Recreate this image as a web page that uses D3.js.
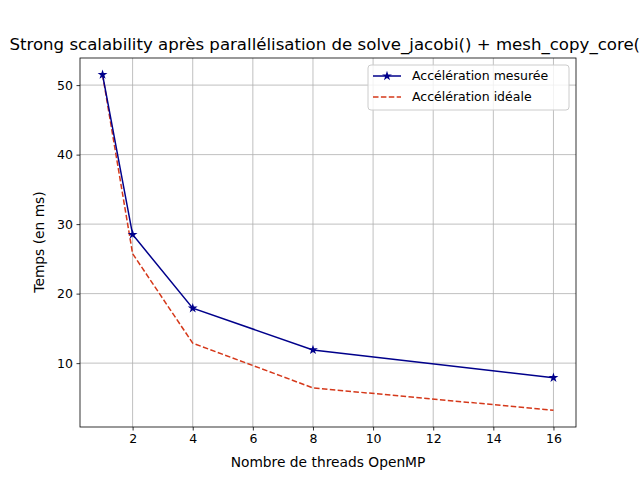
<!DOCTYPE html><html><head><meta charset="utf-8">
<script src="https://cdn.jsdelivr.net/npm/d3@7"></script>
<style>body{margin:0;background:#fff}text{font-family:"DejaVu Sans",sans-serif}</style></head><body>
<svg id="c" width="640" height="480"></svg>
<script>
const threads=[1,2,4,8,16];
const measured=[51.5,28.5,17.9,11.9,7.9];
const ideal=[51.5,25.75,12.875,6.4375,3.22];
const xTicks=[2,4,6,8,10,12,14,16];
const yTicks=[10,20,30,40,50];
const svg=d3.select("#c");
const L=80,R=576,T=58,B=427;
const x=d3.scaleLinear().domain([0.25,16.75]).range([L,R]);
const y=d3.scaleLinear().domain([0.81,53.9]).range([B,T]);
const g=svg.append("g");
xTicks.forEach(t=>g.append("line").attr("x1",x(t)).attr("x2",x(t)).attr("y1",T).attr("y2",B).attr("stroke","#b0b0b0").attr("stroke-width",0.8));
yTicks.forEach(t=>g.append("line").attr("y1",y(t)).attr("y2",y(t)).attr("x1",L).attr("x2",R).attr("stroke","#b0b0b0").attr("stroke-width",0.8));
const xa=svg.append("g").attr("transform",`translate(0,${B})`).call(d3.axisBottom(x).tickValues(xTicks).tickSize(3.5).tickPadding(3.5));
const ya=svg.append("g").attr("transform",`translate(${L},0)`).call(d3.axisLeft(y).tickValues(yTicks).tickSize(3.5).tickPadding(3.5));
[xa,ya].forEach(a=>{a.select(".domain").remove();a.selectAll("text").attr("font-size",12.5).attr("fill","#000").style("font-family","DejaVu Sans");a.selectAll("line").attr("stroke","#000").attr("stroke-width",0.8);});
svg.append("rect").attr("x",L).attr("y",T).attr("width",R-L).attr("height",B-T).attr("fill","none").attr("stroke","#000").attr("stroke-width",0.8);
const line=d3.line().x((d,i)=>x(threads[i])).y(d=>y(d));
svg.append("path").datum(ideal).attr("d",line).attr("fill","none").attr("stroke","#d5381a").attr("stroke-width",1.5).attr("stroke-dasharray","5.5,2.4");
svg.append("path").datum(measured).attr("d",line).attr("fill","none").attr("stroke","#00008b").attr("stroke-width",1.5);
const star=d3.symbol().type(d3.symbolStar).size(30);
measured.forEach((d,i)=>svg.append("path").attr("d",star()).attr("transform",`translate(${x(threads[i])},${y(d)})`).attr("fill","#00008b"));
svg.append("text").attr("x",328).attr("y",50).attr("text-anchor","middle").attr("font-size",16.6).text("Strong scalability après parallélisation de solve_jacobi() + mesh_copy_core()");
svg.append("text").attr("x",328).attr("y",467).attr("text-anchor","middle").attr("font-size",13.8).text("Nombre de threads OpenMP");
svg.append("text").attr("transform","translate(44,242) rotate(-90)").attr("text-anchor","middle").attr("font-size",13.8).text("Temps (en ms)");
const lg=svg.append("g");
lg.append("rect").attr("x",368).attr("y",65).attr("width",201).attr("height",45).attr("rx",3).attr("fill","#fff").attr("fill-opacity",0.8).attr("stroke","#ccc");
lg.append("line").attr("x1",373).attr("x2",401).attr("y1",76).attr("y2",76).attr("stroke","#00008b").attr("stroke-width",1.5);
lg.append("path").attr("d",star()).attr("transform","translate(387,76)").attr("fill","#00008b");
lg.append("text").attr("x",412).attr("y",80).attr("font-size",12.5).text("Accélération mesurée");
lg.append("line").attr("x1",373).attr("x2",401).attr("y1",97).attr("y2",97).attr("stroke","#d5381a").attr("stroke-width",1.5).attr("stroke-dasharray","5.5,2.4");
lg.append("text").attr("x",412).attr("y",101).attr("font-size",12.5).text("Accélération idéale");
</script></body></html>
